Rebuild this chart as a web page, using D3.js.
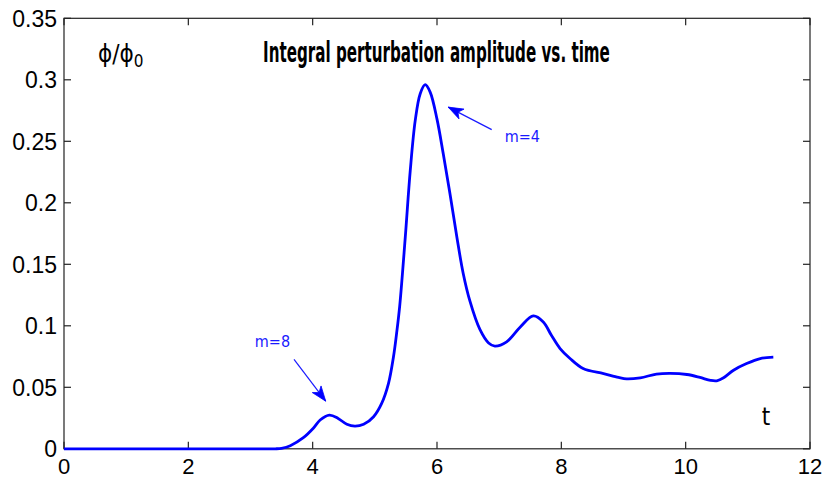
<!DOCTYPE html>
<html>
<head>
<meta charset="utf-8">
<script src="https://cdn.jsdelivr.net/npm/d3@7"></script>
<style>
  html, body { margin: 0; padding: 0; background: #fff; }
  svg { display: block; }
  .tick-label { font-family: "Liberation Sans", Arial, sans-serif; font-size: 23px; fill: #000; }
  .narrow { font-family: "Liberation Sans Narrow", "DejaVu Sans Condensed", "Liberation Sans", sans-serif; }
</style>
</head>
<body>
<script>
// ---- data ----
const tValues = [0, 1, 2, 3, 3.40, 3.50, 3.64, 3.85, 4.01, 4.12, 4.27, 4.41, 4.55, 4.68, 4.82, 4.98, 5.11, 5.22, 5.30, 5.35, 5.40, 5.49, 5.57, 5.65, 5.73, 5.81, 5.89, 6.00, 6.10, 6.21, 6.32, 6.42, 6.53, 6.69, 6.83, 6.93, 7.12, 7.34, 7.55, 7.71, 7.84, 7.98, 8.14, 8.35, 8.68, 8.92, 9.05, 9.27, 9.53, 9.75, 10.02, 10.23, 10.40, 10.50, 10.61, 10.77, 10.98, 11.20, 11.41];
const phiValues = [0, 0, 0, 0, 0, 0.0004, 0.0025, 0.0090, 0.0167, 0.0234, 0.0274, 0.0247, 0.0199, 0.0184, 0.0199, 0.0261, 0.0369, 0.0532, 0.0748, 0.0938, 0.1160, 0.1723, 0.2264, 0.2670, 0.2887, 0.2960, 0.2900, 0.2680, 0.2400, 0.2070, 0.1720, 0.1430, 0.1200, 0.0970, 0.0860, 0.0835, 0.0870, 0.0991, 0.1080, 0.1031, 0.0923, 0.0815, 0.0734, 0.0653, 0.0612, 0.0580, 0.0568, 0.0577, 0.0607, 0.0613, 0.0604, 0.0580, 0.0556, 0.0553, 0.0577, 0.0639, 0.0693, 0.0734, 0.0745];
const xTicks = [0, 2, 4, 6, 8, 10, 12];
const yTicks = [0, 0.05, 0.1, 0.15, 0.2, 0.25, 0.3, 0.35];
const yTickLabels = ["0", "0.05", "0.1", "0.15", "0.2", "0.25", "0.3", "0.35"];
const titleText = "Integral perturbation amplitude vs. time";
const xLabel = "t";
// annotations: [label, textT, textPhi, tailT, tailPhi, headT, headPhi]
const annotations = [
  ["m=4", 7.09, 0.2494, 6.88, 0.2595, 6.18, 0.2778],
  ["m=8", 3.07, 0.0824, 3.70, 0.0727, 4.21, 0.0387]
];

// ---- layout ----
const W = 826, H = 479;
const margin = { left: 64, right: 16, top: 18.3, bottom: 30.2 };
const svg = d3.select("body").append("svg").attr("width", W).attr("height", H);

const x = d3.scaleLinear().domain([0, 12]).range([margin.left, W - margin.right]);
const y = d3.scaleLinear().domain([0, 0.35]).range([H - margin.bottom, margin.top]);

const x0 = x(0), x1 = x(12), y0 = y(0), y1 = y(0.35);
const tickLen = 7;

// axes box
const axisColor = "#222";
svg.append("rect")
  .attr("x", x0).attr("y", y1).attr("width", x1 - x0).attr("height", y0 - y1)
  .attr("fill", "none").attr("stroke", axisColor).attr("stroke-width", 1.2);

// inward ticks on all sides
const tg = svg.append("g").attr("stroke", axisColor).attr("stroke-width", 1.2);
xTicks.forEach(v => {
  tg.append("line").attr("x1", x(v)).attr("x2", x(v)).attr("y1", y0).attr("y2", y0 - tickLen);
  tg.append("line").attr("x1", x(v)).attr("x2", x(v)).attr("y1", y1).attr("y2", y1 + tickLen);
});
yTicks.forEach(v => {
  tg.append("line").attr("x1", x0).attr("x2", x0 + tickLen).attr("y1", y(v)).attr("y2", y(v));
  tg.append("line").attr("x1", x1).attr("x2", x1 - tickLen).attr("y1", y(v)).attr("y2", y(v));
});

// tick labels
xTicks.forEach(v => {
  svg.append("text").attr("class", "tick-label").style("font-size", "22px")
    .attr("x", x(v)).attr("y", 474).attr("text-anchor", "middle").text(String(v));
});
yTicks.forEach((v, i) => {
  svg.append("text").attr("class", "tick-label")
    .attr("x", x0 - 7).attr("y", y(v) + 8.5).attr("text-anchor", "end").text(yTickLabels[i]);
});

// curve
const data = tValues.map((t, i) => ({ t, v: phiValues[i] }));
const line = d3.line().x(d => x(d.t)).y(d => y(d.v)).curve(d3.curveCatmullRom.alpha(0.5));
svg.append("path").datum(data)
  .attr("d", line).attr("fill", "none").attr("stroke", "#0000ff")
  .attr("stroke-width", 2.8).attr("stroke-linejoin", "round").attr("stroke-linecap", "butt");

// title (condensed horizontally to match the reference width)
const titleG = svg.append("g");
const title = titleG.append("text").attr("class", "narrow")
  .attr("x", 0).attr("y", 0).attr("font-size", 29).attr("font-weight", "bold")
  .attr("fill", "#000").text(titleText);
const natural = title.node().getComputedTextLength() || 347;
titleG.attr("transform", `translate(263,62) scale(${347 / natural},1)`);

// phi/phi0 label
const yl = svg.append("text").attr("class", "narrow").attr("x", 98).attr("y", 62)
  .attr("font-size", 24).attr("fill", "#000");
yl.append("tspan").text("\u03D5/\u03D5");
yl.append("tspan").attr("font-size", 17).attr("dy", 5).text("0");

// t label
svg.append("text").attr("class", "narrow")
  .attr("x", 766).attr("y", 425).attr("text-anchor", "middle")
  .attr("font-size", 24).attr("fill", "#000").text(xLabel);

// annotations
const annColor = "#1a1aff";
annotations.forEach(a => {
  const [label, tt, tp, at, ap, ht, hp] = a;
  svg.append("text").attr("class", "narrow")
    .attr("x", x(tt)).attr("y", y(tp)).attr("font-size", 16).attr("fill", annColor).text(label);
  const xa = x(at), ya = y(ap), xh = x(ht), yh = y(hp);
  svg.append("line").attr("x1", xa).attr("y1", ya).attr("x2", xh).attr("y2", yh)
    .attr("stroke", annColor).attr("stroke-width", 1.2);
  const ang = Math.atan2(yh - ya, xh - xa);
  const L = 15, Wd = 5.5;
  const bx = xh - L * Math.cos(ang), by = yh - L * Math.sin(ang);
  const px = -Math.sin(ang), py = Math.cos(ang);
  const pts = [[xh, yh], [bx + Wd * px, by + Wd * py], [bx + 4 * Math.cos(ang), by + 4 * Math.sin(ang)], [bx - Wd * px, by - Wd * py]];
  svg.append("path").attr("d", "M" + pts.map(p => p.join(",")).join("L") + "Z")
    .attr("fill", "#0000ff").attr("stroke", "#0000ff").attr("stroke-width", 0.8);
});
</script>
</body>
</html>
